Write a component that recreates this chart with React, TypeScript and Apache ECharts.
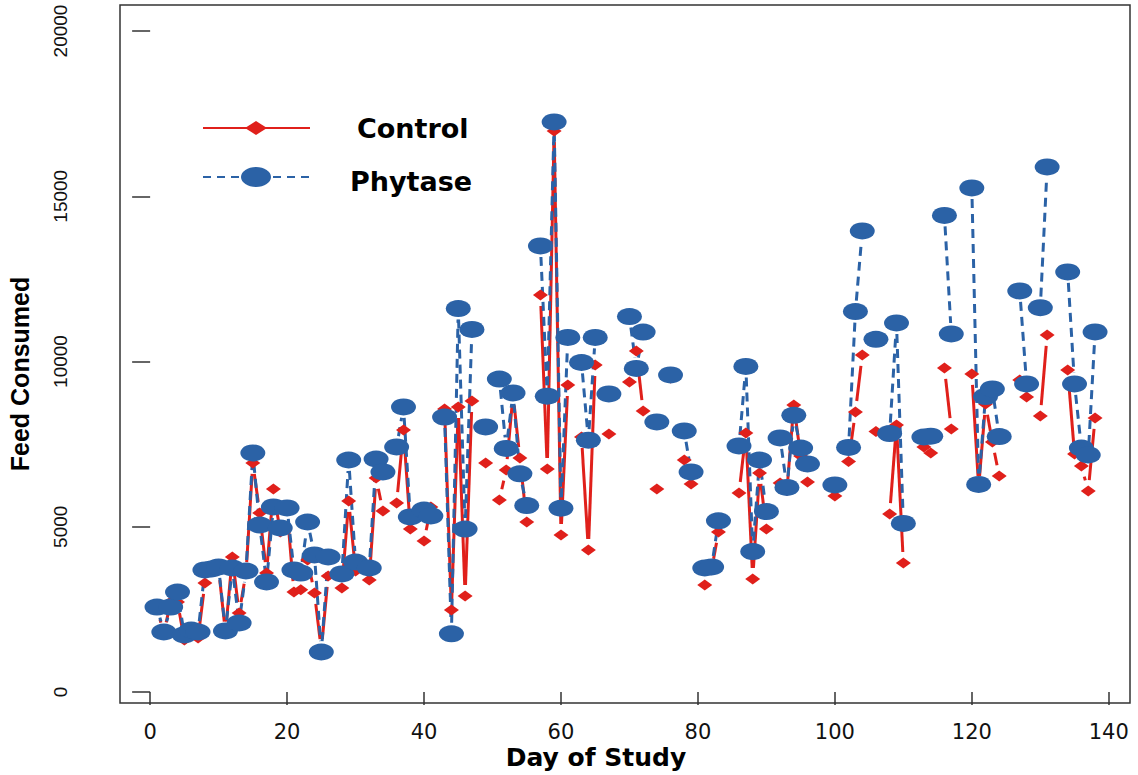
import React, { useEffect, useRef } from "react";
import * as echarts from "echarts";

const days = [
  1, 2, 3, 4, 5, 6, 7, 8, 9, 10,
  11, 12, 13, 14, 15, 16, 17, 18, 19, 20,
  21, 22, 23, 24, 25, 26,
  28, 29, 30,
  32, 33, 34,
  36, 37, 38,
  40, 41,
  43, 44, 45, 46, 47,
  49,
  51, 52, 53, 54, 55,
  57, 58, 59, 60, 61,
  63, 64, 65,
  67,
  70, 71, 72,
  74,
  76,
  78, 79,
  81, 82, 83,
  86, 87, 88, 89, 90,
  92, 93, 94, 95, 96,
  100,
  102, 103, 104,
  106,
  108, 109, 110,
  113, 114,
  116, 117,
  120, 121, 122, 123, 124,
  127, 128,
  130, 131,
  134, 135, 136, 137, 138,
];

const control = [
  2520, 1780, 2720, 2720, 1570, 1800, 1634, 3298, 3650, 3720,
  1800, 4085, 2390, 3600, 6930, 5417, 3600, 6143, 4840, 5500,
  3026, 3090, 3994, 2995, 1270, 3510,
  3147, 5780, 3661,
  3389, 6476, 5477,
  5719, 7928, 4932,
  4570, 5598,
  8563, 2481, 8624, 2905, 8805,
  6930,
  5810, 6718, 9000, 7080, 5144,
  12013, 6748, 16975, 4750, 9290,
  7716, 4297, 9895,
  7807,
  9380, 10319, 8503,
  6143,
  9502,
  7020, 6294,
  3238, 3700, 4842,
  6022, 7837, 3419, 6627, 4932,
  6324, 6100, 8685, 7141, 6355,
  5931,
  6975, 8473, 10198,
  7880,
  5386, 8080, 3903,
  7414, 7232,
  9804, 7958,
  9623, 6200, 8715, 7565, 6536,
  9441, 8926,
  8352, 10803,
  9744, 7202, 6839, 6082, 8291,
];

const phytase = [
  2570, 1815, 2570, 3026, 1725, 1876, 1815, 3692, 3722, 3783,
  1846, 3752, 2088, 3661, 7232, 5053, 3329, 5598, 4963, 5568,
  3692, 3600, 5144, 4146, 1210, 4085,
  3571, 7020, 3933,
  3752, 7050, 6657,
  7414, 8624, 5296,
  5507, 5326,
  8320, 1760, 11600, 4930, 10970,
  8020,
  9470, 7370, 9050, 6600, 5640,
  13496, 8950, 17250, 5560, 10730,
  9970, 7620, 10730,
  9020,
  11360, 9790, 10890,
  8170,
  9592,
  7898, 6660,
  3752, 3783, 5180,
  7444, 9850, 4250, 7020, 5460,
  7686, 6190, 8370, 7383, 6900,
  6264,
  7400, 11510, 13950,
  10670,
  7820, 11166, 5100,
  7716, 7740,
  14420, 10833,
  15251, 6280, 8940, 9169, 7730,
  12134, 9320,
  11630, 15886,
  12710, 9320, 7383, 7172, 10894,
];

const xTicks = [0, 20, 40, 60, 80, 100, 120, 140];
const yTicks = [0, 5000, 10000, 15000, 20000];
const seriesNames = ["Control", "Phytase"];

const RED = "#E0201B";
const BLUE = "#2B62A6";

function pairs(vals: number[]) {
  const out: number[][] = [];
  for (let i = 0; i < days.length - 1; i++) {
    if (days[i + 1] - days[i] === 1) {
      out.push([days[i], vals[i], days[i + 1], vals[i + 1]]);
    }
  }
  return out;
}

function segRender(color: string, dash: number[] | null) {
  return (params: any, api: any) => {
    const a = api.coord([api.value(0), api.value(1)]);
    const b = api.coord([api.value(2), api.value(3)]);
    const dx = b[0] - a[0];
    const dy = b[1] - a[1];
    const len = Math.hypot(dx, dy);
    const gap = 11;
    if (len <= 2 * gap) return { type: "group", children: [] };
    const ux = dx / len;
    const uy = dy / len;
    return {
      type: "line",
      shape: {
        x1: a[0] + ux * gap,
        y1: a[1] + uy * gap,
        x2: b[0] - ux * gap,
        y2: b[1] - uy * gap,
      },
      style: {
        stroke: color,
        lineWidth: 3,
        lineDash: dash || undefined,
        fill: null,
      },
    };
  };
}

export default function App() {
  const ref = useRef<HTMLDivElement>(null);
  useEffect(() => {
    document.body.style.margin = "0";
    if (!ref.current) return;
    const chart = echarts.init(ref.current, null, { renderer: "svg" });
    chart.setOption({
      animation: false,
      backgroundColor: "#fff",
      grid: {
        left: 120,
        top: 5,
        width: 1010,
        height: 698,
        show: true,
        borderColor: "#333",
        borderWidth: 1.5,
        backgroundColor: "transparent",
        containLabel: false,
        outerBoundsMode: "none",
      },
      xAxis: {
        type: "value",
        min: -4.4,
        max: 143.1,
        splitLine: { show: false },
        axisLine: { show: false },
        axisTick: {
          show: true,
          customValues: xTicks,
          length: 13,
          lineStyle: { color: "#333", width: 1.5 },
        },
        axisLabel: {
          customValues: xTicks,
          fontFamily: "DejaVu Sans",
          fontSize: 21,
          color: "#111",
          margin: 18,
        },
        name: "Day of Study",
        nameLocation: "middle",
        nameGap: 42,
        nameMoveOverlap: false,
        nameTextStyle: {
          fontFamily: "DejaVu Sans",
          fontWeight: "bold",
          fontSize: 25,
          color: "#000",
          padding: [0, 58, 0, 0],
        },
      },
      yAxis: {
        type: "value",
        min: -333,
        max: 20787,
        splitLine: { show: false },
        axisLine: { show: false },
        axisTick: {
          show: true,
          customValues: yTicks,
          length: 18,
          lineStyle: { color: "#333", width: 1.5 },
        },
        axisLabel: {
          customValues: yTicks,
          rotate: 90,
          fontFamily: "Liberation Sans",
          fontSize: 19,
          color: "#111",
          margin: 50,
          formatter: (v: number) => String(v),
        },
        name: "Feed Consumed",
        nameLocation: "middle",
        nameRotate: 90,
        nameGap: 88,
        nameMoveOverlap: false,
        nameTextStyle: {
          fontFamily: "'Liberation Sans Narrow', 'Liberation Sans'",
          fontWeight: "bold",
          fontSize: 25,
          color: "#000",
          padding: [0, 40, 0, 0],
        },
      },
      graphic: [
        {
          type: "line",
          shape: { x1: 203, y1: 128, x2: 310, y2: 128 },
          style: { stroke: RED, lineWidth: 2 },
        },
        {
          type: "polygon",
          shape: { points: [[245, 128], [256, 121], [267, 128], [256, 135]] },
          style: { fill: RED },
        },
        {
          type: "text",
          x: 357,
          y: 128,
          style: {
            text: seriesNames[0],
            fontFamily: "DejaVu Sans",
            fontWeight: "bold",
            fontSize: 27,
            fill: "#000",
            verticalAlign: "middle",
          },
        },
        {
          type: "line",
          shape: { x1: 203, y1: 177, x2: 310, y2: 177 },
          style: { stroke: BLUE, lineWidth: 2, lineDash: [8, 6] },
        },
        {
          type: "ellipse",
          shape: { cx: 256, cy: 177, rx: 15, ry: 10 },
          style: { fill: BLUE },
        },
        {
          type: "text",
          x: 350,
          y: 181,
          style: {
            text: seriesNames[1],
            fontFamily: "DejaVu Sans",
            fontWeight: "bold",
            fontSize: 27,
            fill: "#000",
            verticalAlign: "middle",
          },
        },
      ],
      series: [
        {
          type: "custom",
          name: "Control lines",
          renderItem: segRender(RED, null),
          encode: { x: [0, 2], y: [1, 3] },
          data: pairs(control),
          silent: true,
        },
        {
          type: "scatter",
          name: seriesNames[0],
          symbol: "diamond",
          symbolSize: [15, 11],
          itemStyle: { color: RED, opacity: 1 },
          data: days.map((d, i) => [d, control[i]]),
        },
        {
          type: "custom",
          name: "Phytase lines",
          renderItem: segRender(BLUE, [9, 6]),
          encode: { x: [0, 2], y: [1, 3] },
          data: pairs(phytase),
          silent: true,
        },
        {
          type: "scatter",
          name: seriesNames[1],
          symbol: "circle",
          symbolSize: [25, 17],
          itemStyle: { color: BLUE, opacity: 1 },
          data: days.map((d, i) => [d, phytase[i]]),
        },
      ],
    });
    return () => chart.dispose();
  }, []);
  return <div ref={ref} style={{ width: 1138, height: 775 }} />;
}
